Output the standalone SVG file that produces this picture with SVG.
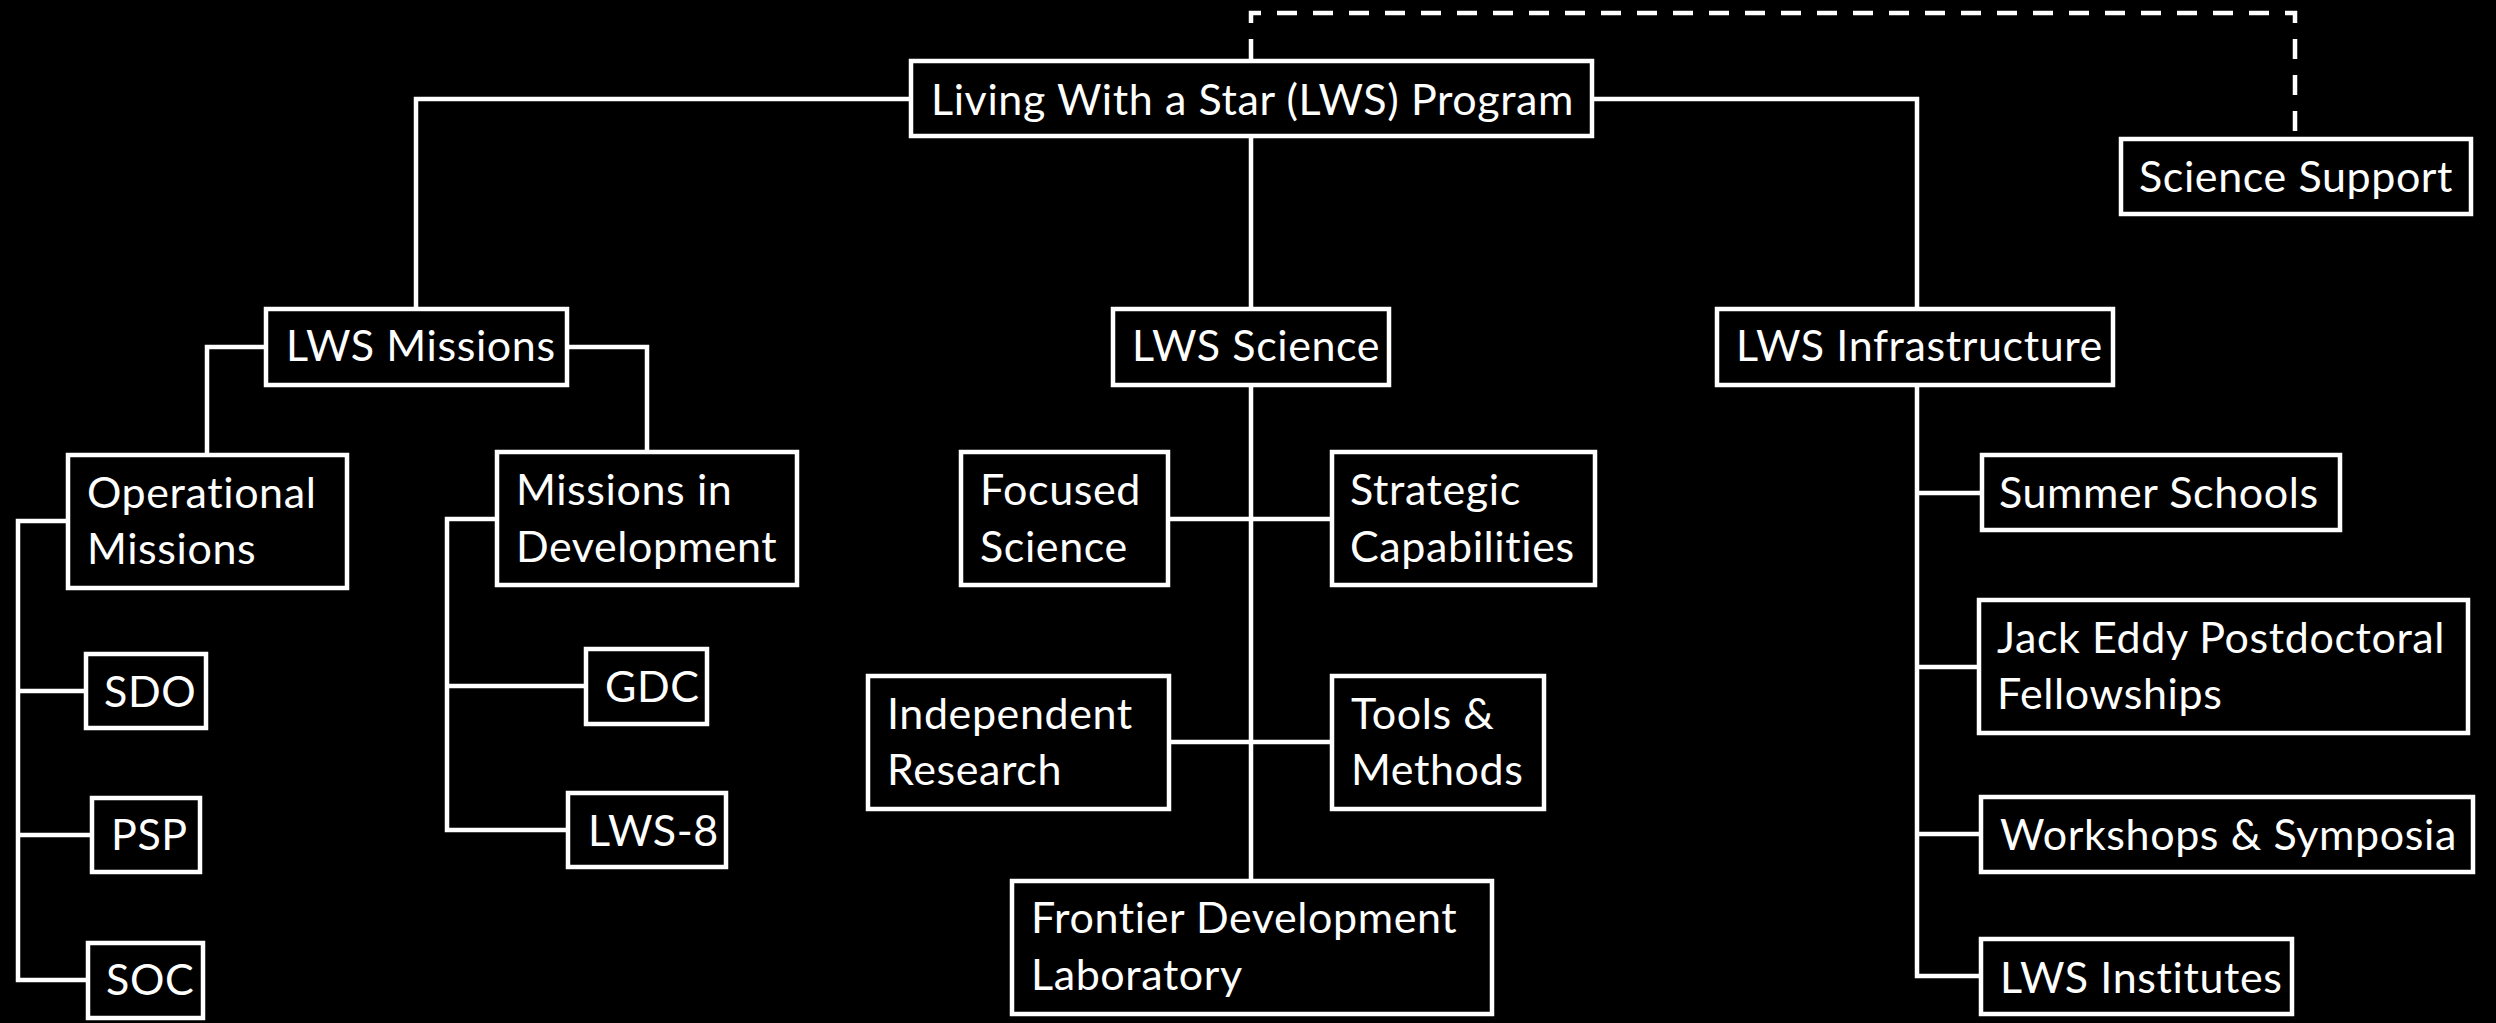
<svg xmlns="http://www.w3.org/2000/svg" width="2496" height="1023" viewBox="0 0 2496 1023">
<style>
.box{fill:#000;stroke:#fff;stroke-width:4.5}
.ln{fill:none;stroke:#fff;stroke-width:4.5}
.dash{fill:none;stroke:#fff;stroke-width:4.5;stroke-dasharray:20 16}
text{font-family:Lato,"Liberation Sans",sans-serif;font-size:43px;letter-spacing:0.6px;fill:#fff}
</style>
<rect width="2496" height="1023" fill="#000"/>
<g id="connectors">
<path class="ln" d="M909,99 H416 V307"/>
<path class="ln" d="M1594,99 H1917 V307"/>
<path class="ln" d="M1251,138 V307"/>
<path class="dash" d="M1251,59 V13 H2295 V137"/>
<path class="ln" d="M264,347 H207 V453"/>
<path class="ln" d="M569,347 H647 V450"/>
<path class="ln" d="M66,521 H18 V980 H86 M18,691 H84 M18,835 H90"/>
<path class="ln" d="M495,519 H447 V830 H566 M447,686 H584"/>
<path class="ln" d="M1251,387 V879 M1170,519 H1330 M1171,742 H1330"/>
<path class="ln" d="M1917,387 V976 H1979 M1917,493 H1980 M1917,667 H1977 M1917,834 H1979"/>
</g>
<g id="root"><rect class="box" x="911" y="61" width="681" height="75"/><text x="931" y="115">Living With a Star (LWS) Program</text></g>
<g id="support"><rect class="box" x="2121" y="139" width="350" height="75"/><text x="2139" y="192">Science Support</text></g>
<g id="missions"><rect class="box" x="266" y="309" width="301" height="76"/><text x="286" y="361">LWS Missions</text></g>
<g id="science"><rect class="box" x="1113" y="309" width="276" height="76"/><text x="1132" y="361">LWS Science</text></g>
<g id="infra"><rect class="box" x="1717" y="309" width="396" height="76"/><text x="1736" y="361">LWS Infrastructure</text></g>
<g id="operational"><rect class="box" x="68" y="455" width="279" height="133"/><text x="87" y="508">Operational</text><text x="87" y="564">Missions</text></g>
<g id="mid"><rect class="box" x="497" y="452" width="300" height="133"/><text x="516" y="505">Missions in</text><text x="516" y="562">Development</text></g>
<g id="sdo"><rect class="box" x="86" y="654" width="120" height="74"/><text x="104" y="707">SDO</text></g>
<g id="psp"><rect class="box" x="92" y="798" width="108" height="74"/><text x="111" y="850">PSP</text></g>
<g id="soc"><rect class="box" x="88" y="943" width="115" height="75"/><text x="106" y="995">SOC</text></g>
<g id="gdc"><rect class="box" x="586" y="649" width="121" height="75"/><text x="605" y="702">GDC</text></g>
<g id="lws8"><rect class="box" x="568" y="793" width="158" height="74"/><text x="588" y="846">LWS-8</text></g>
<g id="focused"><rect class="box" x="961" y="452" width="207" height="133"/><text x="980" y="505">Focused</text><text x="980" y="562">Science</text></g>
<g id="strategic"><rect class="box" x="1332" y="452" width="263" height="133"/><text x="1350" y="505">Strategic</text><text x="1350" y="562">Capabilities</text></g>
<g id="indep"><rect class="box" x="868" y="676" width="301" height="133"/><text x="887" y="729">Independent</text><text x="887" y="785">Research</text></g>
<g id="tools"><rect class="box" x="1332" y="676" width="212" height="133"/><text x="1351" y="729">Tools &amp;</text><text x="1351" y="785">Methods</text></g>
<g id="frontier"><rect class="box" x="1012" y="881" width="480" height="133"/><text x="1031" y="933">Frontier Development</text><text x="1031" y="990">Laboratory</text></g>
<g id="summer"><rect class="box" x="1982" y="455" width="358" height="75"/><text x="1999" y="508">Summer Schools</text></g>
<g id="jack"><rect class="box" x="1979" y="600" width="489" height="133"/><text x="1997" y="653">Jack Eddy Postdoctoral</text><text x="1997" y="709">Fellowships</text></g>
<g id="workshops"><rect class="box" x="1981" y="797" width="492" height="75"/><text x="2000" y="850">Workshops &amp; Symposia</text></g>
<g id="institutes"><rect class="box" x="1981" y="939" width="311" height="75"/><text x="2000" y="993">LWS Institutes</text></g>
</svg>
